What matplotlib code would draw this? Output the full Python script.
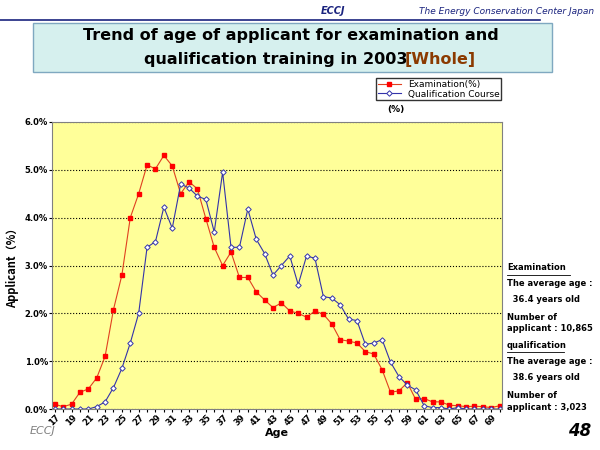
import matplotlib.pyplot as plt
from matplotlib.patches import FancyBboxPatch

ages = list(range(17, 71))
exam = [0.1, 0.05, 0.1, 0.35, 0.42, 0.65, 1.1, 2.08, 2.8, 4.0, 4.5, 5.1, 5.02, 5.3, 5.08,
        4.5, 4.75, 4.6, 3.98, 3.38, 3.0, 3.28, 2.75, 2.75, 2.45, 2.28, 2.12, 2.22, 2.05,
        2.0, 1.92, 2.05, 1.98, 1.78, 1.45, 1.42, 1.38, 1.2, 1.15, 0.82, 0.35, 0.38, 0.55,
        0.2, 0.22, 0.15, 0.15, 0.08, 0.07, 0.05, 0.06, 0.05, 0.03, 0.07]
qual = [0, 0, 0, 0, 0, 0.05, 0.15, 0.45, 0.85, 1.38, 2.0, 3.38, 3.5, 4.22, 3.78,
        4.7, 4.62, 4.45, 4.38, 3.7, 4.95, 3.38, 3.38, 4.18, 3.55, 3.25, 2.8, 3.0, 3.2,
        2.6, 3.2, 3.15, 2.35, 2.32, 2.18, 1.88, 1.85, 1.35, 1.38, 1.45, 0.98, 0.68, 0.5,
        0.4, 0.07, 0.03, 0.03, 0.0, 0.03, 0.0, 0.0, 0.0, 0.0, 0.0]
yticks = [0, 1, 2, 3, 4, 5, 6]
ytick_labels = ["0.0%", "1.0%", "2.0%", "3.0%", "4.0%", "5.0%", "6.0%"]

fig = plt.figure(figsize=(6, 4.5), dpi=100)
fig.patch.set_facecolor('white')

# header
fig.text(0.99, 0.975, "The Energy Conservation Center Japan", ha='right', va='center',
         fontsize=6.5, style='italic', color='#1a237e')
fig.text(0.535, 0.975, "ECCJ", ha='left', va='center', fontsize=7, style='italic',
         weight='bold', color='#1a237e')
fig.add_artist(plt.Line2D([0.0, 0.9], [0.955, 0.955], color='#1a237e', lw=1.2))

# title box
box = FancyBboxPatch((0.055, 0.84), 0.865, 0.11, boxstyle="square,pad=0",
                     transform=fig.transFigure, facecolor='#d6f0ee', edgecolor='#7fa8c0', lw=1)
fig.add_artist(box)
fig.text(0.485, 0.922, "Trend of age of applicant for examination and", ha='center',
         va='center', fontsize=11.5, weight='bold')
fig.text(0.24, 0.868, "qualification training in 2003", ha='left', va='center',
         fontsize=11.5, weight='bold')
fig.text(0.675, 0.868, "[Whole]", ha='left', va='center', fontsize=11.5, weight='bold',
         color='#8b3a00')

ax = fig.add_axes([0.087, 0.091, 0.75, 0.638])
ax.set_facecolor('#ffff99')
ax.plot(ages, exam, color='#e04020', lw=0.8, marker='s', ms=2.8, mfc='red', mec='red',
        label='Examination(%)')
ax.plot(ages, qual, color='#3333aa', lw=0.8, marker='D', ms=2.8, mfc='white', mec='#3333aa',
        mew=0.7, label='Qualification Course')
ax.set_xlim(16.7, 70.3)
ax.set_ylim(0, 6)
ax.set_yticks(yticks)
ax.set_yticklabels(ytick_labels, fontsize=6, weight='bold')
ax.set_xticks(ages)
ax.set_xticklabels([str(a) if a % 2 == 1 else "" for a in ages], rotation=45,
                   fontsize=6, weight='bold')
ax.tick_params(length=2, pad=1)
ax.grid(axis='y', linestyle=':', color='black', lw=0.8)
for s in ax.spines.values():
    s.set_color('#808080')
ax.set_xlabel("Age", fontsize=8, weight='bold', labelpad=0)
ax.set_ylabel("Applicant（%）", fontsize=8, weight='bold', family='Noto Sans CJK JP')
ax.legend(loc='lower left', bbox_to_anchor=(0.72, 1.075), fontsize=6.5, frameon=True,
          fancybox=False, edgecolor='black', borderpad=0.2, handlelength=2.5,
          labelspacing=0.1, borderaxespad=0)
fig.text(0.645, 0.752, "(%)", fontsize=6.5, weight='bold')

# side notes
notes = [(0.405, "Examination", True), (0.37, "The average age :", False),
         (0.335, "  36.4 years old", False), (0.295, "Number of", False),
         (0.27, "applicant : 10,865", False), (0.232, "qualification", True),
         (0.197, "The average age :", False), (0.16, "  38.6 years old", False),
         (0.12, "Number of", False), (0.095, "applicant : 3,023", False)]
for y, t, u in notes:
    fig.text(0.845, y, t, fontsize=6, weight='bold', va='center')
    if u:
        w = 0.105 if t == "Examination" else 0.095
        fig.add_artist(plt.Line2D([0.845, 0.845 + w], [y - 0.015, y - 0.015], color='black', lw=0.6))

fig.text(0.985, 0.03, "48", ha='right', fontsize=12, weight='bold', style='italic')
fig.text(0.05, 0.035, "ECCJ", fontsize=8, style='italic', color='gray')

fig.savefig("out.png", dpi=100)
